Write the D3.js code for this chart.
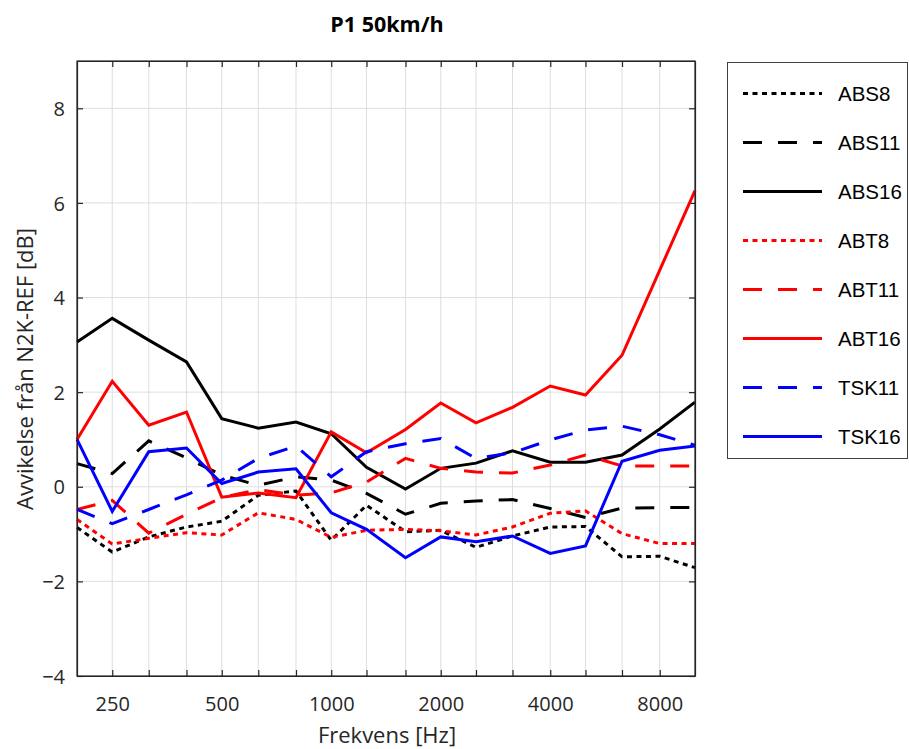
<!DOCTYPE html>
<html>
<head>
<meta charset="utf-8">
<script src="https://cdn.jsdelivr.net/npm/d3@7"></script>
<style>
  html, body { margin: 0; padding: 0; background: #fff; }
  svg { display: block; }
</style>
</head>
<body>
<svg id="chart" width="909" height="749"></svg>
<script>
// ---- data ----
const freqs = [200, 250, 315, 400, 500, 630, 800, 1000, 1250, 1600, 2000, 2500, 3150, 4000, 5000, 6300, 8000, 10000];
const xTickLabels = [250, 500, 1000, 2000, 4000, 8000];
const yTicks = [-4, -2, 0, 2, 4, 6, 8];

const ABS8  = [-0.86, -1.38, -1.06, -0.85, -0.73, -0.18, -0.09, -1.13, -0.39, -0.95, -0.92, -1.28, -1.04, -0.85, -0.84, -1.48, -1.47, -1.71];
const ABS11 = [0.49, 0.28, 0.97, 0.61, 0.25, 0.03, 0.21, 0.14, -0.14, -0.58, -0.35, -0.30, -0.27, -0.46, -0.65, -0.45, -0.44, -0.44];
const ABS16 = [3.06, 3.56, 3.10, 2.64, 1.44, 1.24, 1.37, 1.12, 0.41, -0.05, 0.39, 0.50, 0.76, 0.52, 0.52, 0.67, 1.22, 1.79];
const ABT8  = [-0.69, -1.21, -1.09, -0.97, -1.02, -0.55, -0.69, -1.07, -0.92, -0.90, -0.93, -1.02, -0.85, -0.56, -0.51, -0.99, -1.20, -1.20];
const ABT11 = [-0.48, -0.29, -0.98, -0.58, -0.23, -0.06, -0.18, -0.13, 0.10, 0.60, 0.39, 0.31, 0.29, 0.46, 0.67, 0.44, 0.44, 0.44];
const ABT16 = [1.00, 2.23, 1.30, 1.58, -0.22, -0.13, -0.23, 1.16, 0.72, 1.21, 1.77, 1.35, 1.68, 2.13, 1.94, 2.78, 4.58, 6.26];
const TSK11 = [-0.48, -0.78, -0.48, -0.17, 0.14, 0.60, 0.86, 0.21, 0.74, 0.91, 1.02, 0.60, 0.72, 0.99, 1.20, 1.28, 1.10, 0.88];
const TSK16 = [1.00, -0.52, 0.74, 0.82, 0.07, 0.31, 0.38, -0.55, -0.90, -1.50, -1.06, -1.16, -1.04, -1.41, -1.25, 0.54, 0.77, 0.86];

const seriesNames = ["ABS8", "ABS11", "ABS16", "ABT8", "ABT11", "ABT16", "TSK11", "TSK16"];
const seriesValues = [ABS8, ABS11, ABS16, ABT8, ABT11, ABT16, TSK11, TSK16];
const seriesColors = ["#000000", "#000000", "#000000", "#ff0000", "#ff0000", "#ff0000", "#0000ff", "#0000ff"];
const seriesStyles = ["dotted", "dashed", "solid", "dotted", "dashed", "solid", "dashed", "solid"];

// ---- layout ----
const svg = d3.select("#chart");
const L = 77, R = 695, T = 61, B = 676;
const axisColor = "#262626";
const gridColor = "#dedede";
const FONT = "'Open Sans', Lato, sans-serif";
const dashFor = s => s === "dotted" ? "5,4.5" : s === "dashed" ? "19,16" : null;

const x = d3.scaleLog().domain([200, 10000]).range([L, R]);
const y = d3.scaleLinear().domain([-4, 9]).range([B, T]);

// grid
const g = svg.append("g");
g.selectAll(".vg").data(freqs.filter(f => f > 200 && f < 10000)).enter().append("line")
  .attr("x1", d => x(d)).attr("x2", d => x(d)).attr("y1", T).attr("y2", B)
  .attr("stroke", gridColor).attr("stroke-width", 1);
g.selectAll(".hg").data(yTicks.filter(v => v > -4)).enter().append("line")
  .attr("x1", L).attr("x2", R).attr("y1", d => y(d)).attr("y2", d => y(d))
  .attr("stroke", gridColor).attr("stroke-width", 1);

// axes (box with inward ticks)
const tickLen = 6;
const xBottom = d3.axisBottom(x).tickValues(freqs.slice(1, -1)).tickSizeInner(-tickLen).tickSizeOuter(0)
  .tickFormat(d => xTickLabels.includes(d) ? String(d) : "");
const xTop = d3.axisTop(x).tickValues(freqs.slice(1, -1)).tickSizeInner(-tickLen).tickSizeOuter(0).tickFormat("");
const yLeft = d3.axisLeft(y).tickValues(yTicks).tickSizeInner(-tickLen).tickSizeOuter(0).tickFormat(d3.format("d"));
const yRight = d3.axisRight(y).tickValues(yTicks).tickSizeInner(-tickLen).tickSizeOuter(0).tickFormat("");

function styleAxis(sel) {
  sel.select(".domain").attr("stroke", axisColor).attr("stroke-width", 1.2);
  sel.selectAll(".tick line").attr("stroke", axisColor).attr("stroke-width", 1.2);
  sel.selectAll(".tick text").attr("fill", axisColor)
    .style("font-family", FONT).style("font-size", "20px");
}
const gxb = svg.append("g").attr("transform", `translate(0,${B})`).call(xBottom);
styleAxis(gxb);
gxb.selectAll(".tick text").attr("dy", "0").attr("y", 35);
const gxt = svg.append("g").attr("transform", `translate(0,${T})`).call(xTop);
styleAxis(gxt);
const gyl = svg.append("g").attr("transform", `translate(${L},0)`).call(yLeft);
styleAxis(gyl);
gyl.selectAll(".tick text").attr("x", -12).attr("dy", "0.36em");
const gyr = svg.append("g").attr("transform", `translate(${R},0)`).call(yRight);
styleAxis(gyr);

// lines
const line = d3.line().x(d => x(d[0])).y(d => y(d[1]));
seriesValues.forEach((vals, i) => {
  svg.append("path")
    .datum(freqs.map((f, j) => [f, vals[j]]))
    .attr("d", line)
    .attr("fill", "none")
    .attr("stroke", seriesColors[i])
    .attr("stroke-width", 3)
    .attr("stroke-linejoin", "miter")
    .attr("stroke-dasharray", dashFor(seriesStyles[i]));
});

// redraw box edges on top
svg.append("rect").attr("x", L).attr("y", T).attr("width", R - L).attr("height", B - T)
  .attr("fill", "none").attr("stroke", axisColor).attr("stroke-width", 1.2);

// title & labels
svg.append("text").attr("x", 387).attr("y", 32).attr("text-anchor", "middle")
  .style("font-family", FONT).style("font-size", "21.5px").style("font-weight", "bold")
  .attr("fill", "#000").text("P1 50km/h");
svg.append("text").attr("x", 387).attr("y", 743).attr("text-anchor", "middle")
  .style("font-family", FONT).style("font-size", "22px")
  .attr("fill", axisColor).text("Frekvens [Hz]");
svg.append("text").attr("transform", `translate(33,${369}) rotate(-90)`).attr("text-anchor", "middle")
  .style("font-family", FONT).style("font-size", "22px")
  .attr("fill", axisColor).text("Avvikelse från N2K-REF [dB]");

// legend
const lg = svg.append("g");
lg.append("rect").attr("x", 727.5).attr("y", 62.5).attr("width", 180).attr("height", 396)
  .attr("fill", "#fff").attr("stroke", "#404040").attr("stroke-width", 1);
const ly = d3.scalePoint().domain(seriesNames).range([93.5, 436.5]);
seriesNames.forEach((name, i) => {
  lg.append("line").attr("x1", 743).attr("x2", 822).attr("y1", ly(name)).attr("y2", ly(name))
    .attr("stroke", seriesColors[i]).attr("stroke-width", 3)
    .attr("stroke-dasharray", dashFor(seriesStyles[i]));
  lg.append("text").attr("x", 838).attr("y", ly(name)).attr("dy", "0.36em")
    .style("font-family", "'Liberation Sans', Arial, sans-serif").style("font-size", "20.5px")
    .attr("fill", "#000").text(name);
});
</script>
</body>
</html>
